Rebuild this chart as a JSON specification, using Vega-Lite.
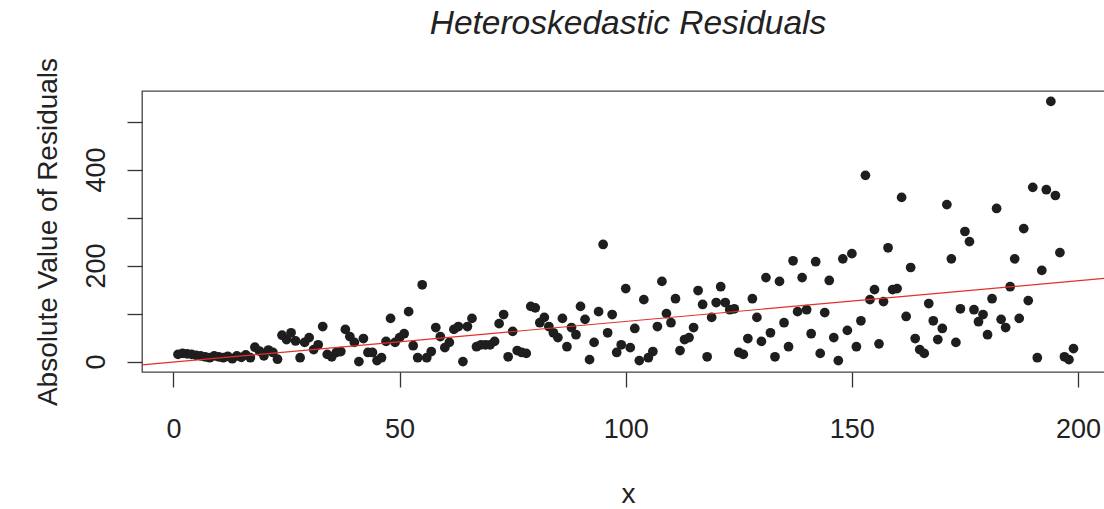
{
  "$schema": "https://vega.github.io/schema/vega-lite/v6.json",
  "width": 972,
  "height": 281,
  "autosize": {"type": "none"},
  "padding": {"left": 142, "top": 91, "right": 0, "bottom": 137},
  "background": "white",
  "title": {"text": "Heteroskedastic Residuals", "font": "Liberation Sans", "fontSize": 33.5, "fontStyle": "italic", "fontWeight": "normal", "color": "#222", "anchor": "middle", "frame": "group", "offset": 16},
  "config": {
    "view": {"stroke": "#444", "strokeWidth": 1.3},
    "axis": {"grid": false, "domain": false, "tickSize": 15, "tickColor": "#333", "tickWidth": 1.3, "labelFont": "Liberation Sans", "labelFontSize": 27, "labelColor": "#222", "titleFont": "Liberation Sans", "titleFontSize": 28, "titleFontWeight": "normal", "titleColor": "#222"}
  },
  "data": {"values": [
    {"x":1,"v":15},{"x":2,"v":17},{"x":3,"v":16},{"x":4,"v":15},{"x":5,"v":13},{"x":6,"v":12},{"x":7,"v":10},{"x":8,"v":8},{"x":9,"v":12},{"x":10,"v":10},
    {"x":11,"v":8},{"x":12,"v":11},{"x":13,"v":6},{"x":14,"v":12},{"x":15,"v":9},{"x":16,"v":14},{"x":17,"v":8},{"x":18,"v":30},{"x":19,"v":22},{"x":20,"v":12},
    {"x":21,"v":24},{"x":22,"v":19},{"x":23,"v":5},{"x":24,"v":55},{"x":25,"v":46},{"x":26,"v":60},{"x":27,"v":43},{"x":28,"v":8},{"x":29,"v":40},{"x":30,"v":50},
    {"x":31,"v":25},{"x":32,"v":35},{"x":33,"v":73},{"x":34,"v":15},{"x":35,"v":10},{"x":36,"v":19},{"x":37,"v":21},{"x":38,"v":67},{"x":39,"v":52},{"x":40,"v":40},
    {"x":41,"v":0},{"x":42,"v":48},{"x":43,"v":19},{"x":44,"v":19},{"x":45,"v":2},{"x":46,"v":8},{"x":47,"v":42},{"x":48,"v":90},{"x":49,"v":40},{"x":50,"v":50},
    {"x":51,"v":58},{"x":52,"v":104},{"x":53,"v":33},{"x":54,"v":8},{"x":55,"v":160},{"x":56,"v":8},{"x":57,"v":21},{"x":58,"v":71},{"x":59,"v":52},{"x":60,"v":29},
    {"x":61,"v":40},{"x":62,"v":67},{"x":63,"v":73},{"x":64,"v":0},{"x":65,"v":73},{"x":66,"v":90},{"x":67,"v":31},{"x":68,"v":35},{"x":69,"v":35},{"x":70,"v":35},
    {"x":71,"v":42},{"x":72,"v":79},{"x":73,"v":98},{"x":74,"v":10},{"x":75,"v":63},{"x":76,"v":23},{"x":77,"v":19},{"x":78,"v":17},{"x":79,"v":115},{"x":80,"v":112},
    {"x":81,"v":81},{"x":82,"v":92},{"x":83,"v":73},{"x":84,"v":60},{"x":85,"v":50},{"x":86,"v":90},{"x":87,"v":31},{"x":88,"v":71},{"x":89,"v":56},{"x":90,"v":115},
    {"x":91,"v":88},{"x":92,"v":4},{"x":93,"v":40},{"x":94,"v":104},{"x":95,"v":244},{"x":96,"v":60},{"x":97,"v":98},{"x":98,"v":19},{"x":99,"v":35},{"x":100,"v":152},
    {"x":101,"v":29},{"x":102,"v":69},{"x":103,"v":2},{"x":104,"v":129},{"x":105,"v":8},{"x":106,"v":21},{"x":107,"v":73},{"x":108,"v":167},{"x":109,"v":100},{"x":110,"v":81},
    {"x":111,"v":131},{"x":112,"v":23},{"x":113,"v":46},{"x":114,"v":50},{"x":115,"v":71},{"x":116,"v":148},{"x":117,"v":119},{"x":118,"v":10},{"x":119,"v":92},{"x":120,"v":123},
    {"x":121,"v":156},{"x":122,"v":123},{"x":123,"v":108},{"x":124,"v":110},{"x":125,"v":19},{"x":126,"v":15},{"x":127,"v":48},{"x":128,"v":131},{"x":129,"v":92},{"x":130,"v":42},
    {"x":131,"v":175},{"x":132,"v":60},{"x":133,"v":10},{"x":134,"v":167},{"x":135,"v":81},{"x":136,"v":31},{"x":137,"v":210},{"x":138,"v":104},{"x":139,"v":175},{"x":140,"v":108},
    {"x":141,"v":58},{"x":142,"v":208},{"x":143,"v":17},{"x":144,"v":102},{"x":145,"v":169},{"x":146,"v":50},{"x":147,"v":2},{"x":148,"v":214},{"x":149,"v":65},{"x":150,"v":225},
    {"x":151,"v":31},{"x":152,"v":85},{"x":153,"v":388},{"x":154,"v":129},{"x":155,"v":150},{"x":156,"v":37},{"x":157,"v":125},{"x":158,"v":237},{"x":159,"v":150},{"x":160,"v":152},
    {"x":161,"v":342},{"x":162,"v":94},{"x":163,"v":196},{"x":164,"v":48},{"x":165,"v":25},{"x":166,"v":17},{"x":167,"v":121},{"x":168,"v":85},{"x":169,"v":46},{"x":170,"v":69},
    {"x":171,"v":327},{"x":172,"v":214},{"x":173,"v":40},{"x":174,"v":110},{"x":175,"v":271},{"x":176,"v":250},{"x":177,"v":108},{"x":178,"v":83},{"x":179,"v":98},{"x":180,"v":56},
    {"x":181,"v":131},{"x":182,"v":319},{"x":183,"v":88},{"x":184,"v":71},{"x":185,"v":156},{"x":186,"v":214},{"x":187,"v":90},{"x":188,"v":277},{"x":189,"v":127},{"x":190,"v":363},
    {"x":191,"v":8},{"x":192,"v":190},{"x":193,"v":358},{"x":194,"v":542},{"x":195,"v":346},{"x":196,"v":227},{"x":197,"v":10},{"x":198,"v":4},{"x":199,"v":27}
  ]},
  "layer": [
    {
      "mark": {"type": "circle", "size": 95, "color": "#1e1e1e", "opacity": 1},
      "encoding": {
        "x": {"field": "x", "type": "quantitative", "scale": {"domain": [-6.96, 207.96], "nice": false, "zero": false},
              "axis": {"values": [0, 50, 100, 150, 200], "labelPadding": 29, "labelBaseline": "top", "title": "x", "titlePadding": 38}},
        "y": {"field": "v", "type": "quantitative", "scale": {"domain": [-21.7, 563.7], "nice": false, "zero": false},
              "axis": {"values": [0, 100, 200, 300, 400, 500], "labelExpr": "datum.value % 200 === 0 ? datum.label : ''", "labelAngle": -90, "labelAlign": "center", "labelBaseline": "alphabetic", "labelPadding": 23, "title": "Absolute Value of Residuals", "titlePadding": 20}}
      }
    },
    {
      "transform": [{"regression": "v", "on": "x", "extent": [-6.96, 207.96]}],
      "mark": {"type": "line", "color": "#e0312b", "strokeWidth": 1.2, "clip": true},
      "encoding": {
        "x": {"field": "x", "type": "quantitative"},
        "y": {"field": "v", "type": "quantitative"}
      }
    }
  ]
}
